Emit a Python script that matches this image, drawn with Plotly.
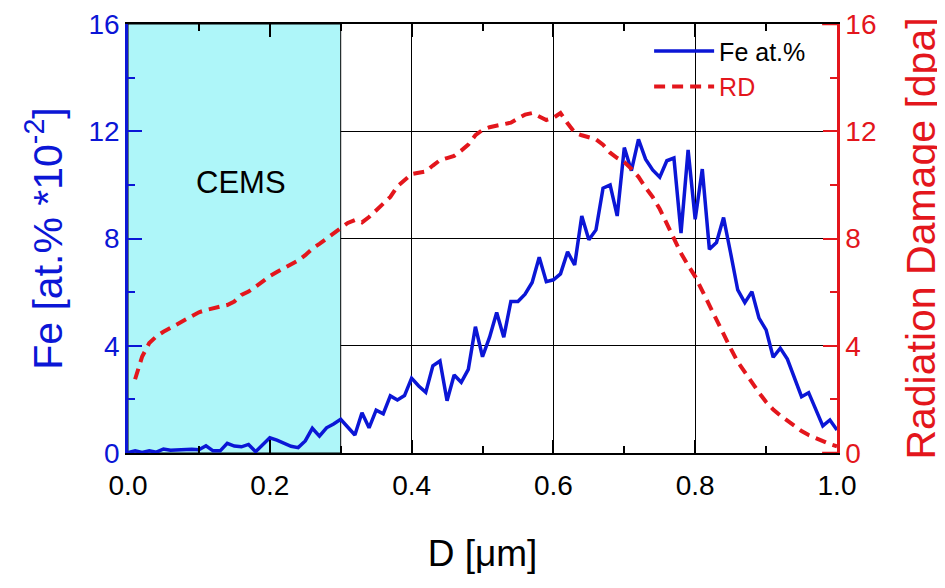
import plotly.graph_objects as go

depth = [round(i * 0.01, 2) for i in range(101)]
fe = [0.02, 0.08, 0.02, 0.08, 0.03, 0.15, 0.10, 0.12, 0.15, 0.14,
      0.12, 0.27, 0.08, 0.08, 0.36, 0.26, 0.23, 0.32, 0.05, 0.30,
      0.57, 0.48, 0.37, 0.25, 0.20, 0.45, 0.92, 0.63, 0.94, 1.08,
      1.26, 0.95, 0.67, 1.50, 0.94, 1.60, 1.46, 2.13, 1.98, 2.14,
      2.79, 2.50, 2.26, 3.25, 3.43, 1.95, 2.91, 2.64, 3.12, 4.71,
      3.59, 4.32, 5.24, 4.32, 5.65, 5.65, 5.92, 6.36, 7.30, 6.39,
      6.46, 6.68, 7.50, 7.01, 8.84, 7.95, 8.32, 9.88, 10.00, 8.84,
      11.39, 10.53, 11.70, 10.96, 10.56, 10.29, 10.90, 11.00, 8.20, 11.30,
      8.72, 10.59, 7.60, 7.85, 8.78, 7.45, 6.08, 5.61, 6.02, 5.03,
      4.59, 3.57, 3.91, 3.50, 2.79, 2.10, 2.25, 1.60, 1.01, 1.23,
      0.86]

rd_depth = [round(i * 0.01, 2) for i in range(1, 101)]
rd = [2.75, 3.60, 4.10, 4.35, 4.52, 4.67, 4.80, 4.95, 5.10,
      5.25, 5.33, 5.41, 5.46, 5.52, 5.65, 5.90, 6.02, 6.20, 6.40,
      6.60, 6.75, 6.90, 7.05, 7.18, 7.38, 7.62, 7.80, 8.00, 8.20,
      8.42, 8.58, 8.69, 8.60, 8.80, 9.05, 9.30, 9.55, 9.95, 10.20,
      10.40, 10.45, 10.50, 10.72, 10.92, 11.00, 11.08, 11.28, 11.50, 11.85,
      12.05, 12.15, 12.20, 12.28, 12.32, 12.48, 12.62, 12.68, 12.55, 12.42,
      12.50, 12.68, 12.30, 11.95, 11.85, 11.78, 11.70, 11.50, 11.20, 11.00,
      10.85, 10.60, 10.30, 9.90, 9.55, 9.10, 8.55, 8.00, 7.45, 7.00,
      6.58, 6.05, 5.50, 5.00, 4.45, 3.90, 3.40, 3.00, 2.60, 2.25,
      1.90, 1.62, 1.40, 1.20, 1.00, 0.82, 0.67, 0.55, 0.43, 0.33,
      0.25]

cems_range = [0.0, 0.3]
x_ticks = [0.0, 0.2, 0.4, 0.6, 0.8, 1.0]
x_tick_labels = ["0.0", "0.2", "0.4", "0.6", "0.8", "1.0"]
y_ticks = [0, 4, 8, 12, 16]

BLUE = "#0b16d6"
RED = "#e3161c"
CYAN = "#aef6f9"
FONT = "Liberation Sans, Arial, sans-serif"

fig = go.Figure()
fig.add_trace(go.Scatter(x=depth, y=fe, mode="lines", name="Fe at.%",
                         line=dict(color=BLUE, width=3.5), yaxis="y"))
fig.add_trace(go.Scatter(x=rd_depth, y=rd, mode="lines",
                         name="<span style='color:%s'>RD</span>" % RED,
                         line=dict(color=RED, width=4, dash="11px,7px"), yaxis="y2"))

fig.add_shape(type="rect", xref="x", yref="y", x0=cems_range[0], x1=cems_range[1],
              y0=0, y1=16, fillcolor=CYAN, line=dict(color="black", width=1),
              layer="between")
# red corner segments of the right axis frame
for yv in (0, 16):
    fig.add_shape(type="line", xref="x", yref="y", x0=0.979, x1=1.0, y0=yv, y1=yv,
                  line=dict(color=RED, width=2.5), layer="above")
fig.add_annotation(x=0.16, y=10.1, xref="x", yref="y", text="CEMS", showarrow=False,
                   font=dict(family=FONT, size=31, color="black"))

fig.update_layout(
    width=945, height=588,
    margin=dict(l=120, r=116, t=16, b=143, autoexpand=False),
    paper_bgcolor="white", plot_bgcolor="white",
    font=dict(family=FONT),
    showlegend=True,
    legend=dict(x=0.735, y=0.99, xanchor="left", yanchor="top",
                bgcolor="rgba(0,0,0,0)", font=dict(family=FONT, size=25, color="black"),
                itemwidth=60, tracegroupgap=0),
    xaxis=dict(range=[0, 1], tickvals=x_ticks, ticktext=x_tick_labels,
               ticks="inside", ticklen=13, tickwidth=2, tickcolor="black",
               minor=dict(dtick=0.1, ticks="inside", ticklen=7, tickwidth=2, tickcolor="black"),
               showline=True, linecolor="black", linewidth=2, mirror="ticks",
               showgrid=True, gridcolor="black", gridwidth=1, zeroline=False,
               ticklabelstandoff=6,
               tickfont=dict(family=FONT, size=28, color="black"),
               title=dict(text="D [μm]", font=dict(family=FONT, size=37, color="black"), standoff=41)),
    yaxis=dict(range=[0, 16], tickvals=y_ticks,
               ticks="inside", ticklen=14, tickwidth=2, tickcolor=BLUE,
               minor=dict(dtick=2, ticks="inside", ticklen=7, tickwidth=2, tickcolor=BLUE),
               showline=True, linecolor=BLUE, linewidth=2.5,
               showgrid=True, gridcolor="black", gridwidth=1, zeroline=False,
               tickfont=dict(family=FONT, size=28, color=BLUE),
               title=dict(text="Fe [at.% *10<sup>-2</sup>]", font=dict(family=FONT, size=41, color=BLUE), standoff=14)),
    yaxis2=dict(range=[0, 16], tickvals=y_ticks, overlaying="y", side="right",
                ticks="inside", ticklen=14, tickwidth=2, tickcolor=RED,
                minor=dict(dtick=2, ticks="inside", ticklen=7, tickwidth=2, tickcolor=RED),
                showline=True, linecolor=RED, linewidth=2.5,
                showgrid=False, zeroline=False,
                tickfont=dict(family=FONT, size=28, color=RED),
                title=dict(text="Radiation Damage [dpa]", font=dict(family=FONT, size=41, color=RED), standoff=31)),
)

fig.write_html("out.html")
